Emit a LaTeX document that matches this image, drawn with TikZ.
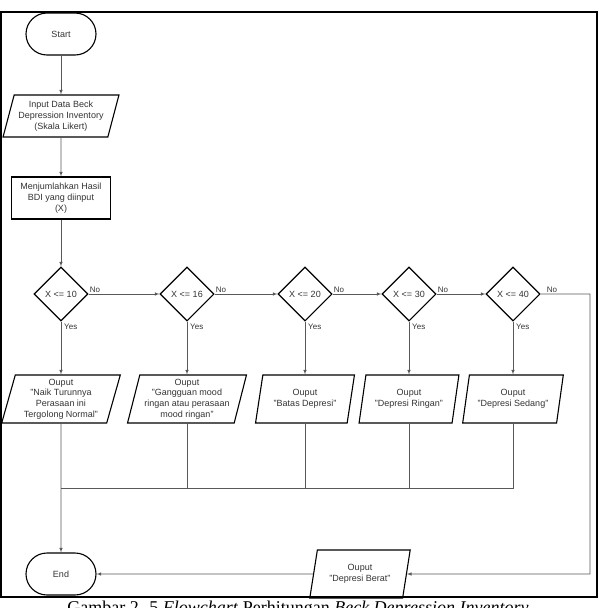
\documentclass[tikz,border=0pt]{standalone}
\usepackage{fontspec}
\setmainfont{Liberation Sans}
\newfontfamily\capfont{Liberation Serif}
\usetikzlibrary{shapes.geometric}

\begin{document}
\begin{tikzpicture}[
    x=1pt, y=-1pt, >=latex,
    font=\fontsize{9}{10.7}\selectfont,
    term/.style={draw, line width=1.1pt, rounded corners=21pt,
                 minimum width=70pt, minimum height=42pt, text=black!80},
    iobox/.style={draw, line width=1.1pt, trapezium, trapezium left angle=75,
                  trapezium right angle=105, trapezium stretches=true,
                  minimum height=48pt, align=center, inner sep=1pt, text=black!80},
    procbox/.style={draw, line width=1.1pt, minimum width=99pt, minimum height=42pt,
                    align=center, inner sep=1pt, text=black!80},
    decbox/.style={draw, line width=1.1pt, diamond, minimum width=54pt,
                   minimum height=54pt, inner sep=0pt, text=black!80},
    lbl/.style={font=\fontsize{8}{9}\selectfont, text=black!80, inner sep=1pt},
    flow/.style={->, black!65, semithick},
    mergeline/.style={black!65, semithick},
]
\useasboundingbox (0,0) rectangle (599,608);

% Frame of the figure
\draw[line width=2pt] (1,12) rectangle (597,597);

% Left column: start, input, sum
\node[term] (start) at (61,34) {Start};
\node[iobox, trapezium left angle=72, trapezium right angle=108,
      minimum width=116pt, minimum height=42pt] (input) at (61,116)
      {Input Data Beck\\Depression Inventory\\(Skala Likert)};
\node[procbox] (sum) at (61,198) {Menjumlahkan Hasil\\BDI yang diinput\\(X)};

% Decision row
\node[decbox] (d10) at (61,294) {X <= 10};
\node[decbox] (d16) at (187,294) {X <= 16};
\node[decbox] (d20) at (305,294) {X <= 20};
\node[decbox] (d30) at (409,294) {X <= 30};
\node[decbox] (d40) at (513,294) {X <= 40};

% Output row
\node[iobox, minimum width=119pt] (o10) at (61,399)
      {Ouput\\"Naik Turunnya\\Perasaan ini\\Tergolong Normal"};
\node[iobox, minimum width=119pt] (o16) at (187,399)
      {Ouput\\"Gangguan mood\\ringan atau perasaan\\mood ringan"};
\node[iobox, minimum width=99pt] (o20) at (305,399) {Ouput\\"Batas Depresi"};
\node[iobox, minimum width=100pt] (o30) at (409,399) {Ouput\\"Depresi Ringan"};
\node[iobox, minimum width=101pt] (o40) at (513,399) {Ouput\\"Depresi Sedang"};

% Bottom row
\node[term] (end) at (61,574) {End};
\node[iobox, minimum width=101pt] (berat) at (360,574) {Ouput\\"Depresi Berat"};
\coordinate (merge) at (61,488);
\coordinate (rturn) at (590,574);

% Main chain
\draw[flow] (start) -- (input);
\draw[flow] (input) -- (sum);
\draw[flow] (sum) -- (d10);

% No branches
\draw[flow] (d10) -- (d16);
\draw[flow] (d16) -- (d20);
\draw[flow] (d20) -- (d30);
\draw[flow] (d30) -- (d40);
\draw[flow] (d40.east) -| (rturn) -- (berat.east);
\draw[flow] (berat) -- (end);

% Yes branches
\draw[flow] (d10) -- (o10);
\draw[flow] (d16) -- (o16);
\draw[flow] (d20) -- (o20);
\draw[flow] (d30) -- (o30);
\draw[flow] (d40) -- (o40);

% Outputs join towards End
\draw[flow] (o10) -- (end);
\draw[mergeline] (o16.south) |- (merge);
\draw[mergeline] (o20.south) |- (merge);
\draw[mergeline] (o30.south) |- (merge);
\draw[mergeline] (o40.south) |- (merge);

% Branch labels
\node[lbl, anchor=south west] (no10) at (d10.east) {No};
\node[lbl, anchor=south west] (no16) at (d16.east) {No};
\node[lbl, anchor=south west] (no20) at (d20.east) {No};
\node[lbl, anchor=south west] (no30) at (d30.east) {No};
\node[lbl, anchor=south west, xshift=5pt] (no40) at (d40.east) {No};
\node[lbl, anchor=north west, xshift=2pt, yshift=-1pt] (yes10) at (d10.south) {Yes};
\node[lbl, anchor=north west, xshift=2pt, yshift=-1pt] (yes16) at (d16.south) {Yes};
\node[lbl, anchor=north west, xshift=2pt, yshift=-1pt] (yes20) at (d20.south) {Yes};
\node[lbl, anchor=north west, xshift=2pt, yshift=-1pt] (yes30) at (d30.south) {Yes};
\node[lbl, anchor=north west, xshift=2pt, yshift=-1pt] (yes40) at (d40.south) {Yes};

% Caption, cut by the page edge
\node[font=\capfont\fontsize{18}{20}\selectfont, anchor=base, inner sep=0pt] (caption)
      at (298,613) {Gambar 2. 5 \textit{Flowchart} Perhitungan \textit{Beck Depression Inventory}};
\end{tikzpicture}
\end{document}
